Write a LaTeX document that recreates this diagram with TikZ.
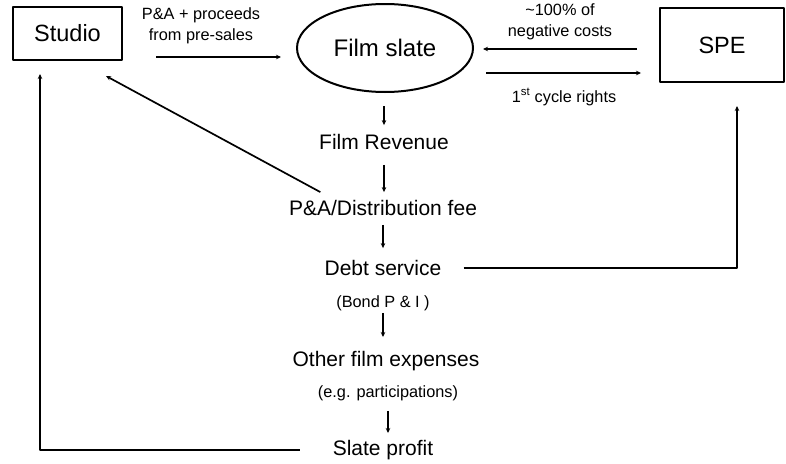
\documentclass[tikz,border=0pt]{standalone}
\usepackage{fontspec}
\setmainfont{Liberation Sans}
\usetikzlibrary{arrows.meta,shapes.geometric}
\begin{document}
\begin{tikzpicture}[x=1pt,y=-1pt,line join=round,>={Stealth[length=5pt,width=4.5pt]},
  box/.style={draw,line width=2pt,inner sep=0pt},
  lbl/.style={inner sep=0pt,font=\fontsize{21}{24}\selectfont},
  note/.style={inner sep=0pt,align=center,font=\fontsize{16.3}{20.5}\selectfont},
  flow/.style={->,line width=1.7pt},
  chain/.style={->,line width=1.2pt}]
\useasboundingbox (0,0) rectangle (786,463);
\node[box,minimum width=109pt,minimum height=53pt,font=\fontsize{23.5}{26}\selectfont] (studio) at (67.5,33.5) {Studio};
\node[box,minimum width=124pt,minimum height=74pt,font=\fontsize{23.5}{26}\selectfont] (spe) at (722,45) {SPE};
\node[box,ellipse,minimum width=176pt,minimum height=88pt,font=\fontsize{24}{28}\selectfont] (slate) at (385,48) {Film slate};
\node[note] (presales) at (201,26) {P\&A + proceeds\\from pre-sales};
\node[note] (negcost) at (560,22) {\textasciitilde100\% of\\negative costs};
\node[note] (rights) at (564,97) {1\textsuperscript{st} cycle rights};
\node[lbl] (rev) at (384,142) {Film Revenue};
\node[lbl] (fee) at (383,208) {P\&A/Distribution fee};
\node[lbl] (debt) at (383,268) {Debt service};
\node[note] (bond) at (383,303) {(Bond P \& I )};
\node[lbl] (other) at (386,361) {Other film expenses};
\node[note] (eg) at (388,393) {(e.g. participations)};
\node[lbl] (profit) at (383,450) {Slate profit};
\draw[flow,shorten <=33pt,shorten >=15pt] ([yshift=-23.5pt]studio.east) -- ([yshift=-23.5pt]studio.east -| slate.west);
\draw[flow,shorten <=22pt,shorten >=9pt] ([yshift=-4pt]spe.west) -- ([yshift=-4pt]spe.west -| slate.east);
\draw[flow,shorten <=12pt,shorten >=18pt] ([yshift=-28pt]spe.west -| slate.east) -- ([yshift=-28pt]spe.west);
\draw[chain,shorten <=13pt,shorten >=9pt] (rev.north |- slate.south) -- (rev.north);
\foreach \a/\b/\s/\e in {rev/fee/15/8,fee/debt/9/12,bond/other/2/14,eg/profit/10/7}
  \draw[chain,shorten <=\s pt,shorten >=\e pt] (\a.south) -- (\a.south |- \b.north);
\draw[flow] ([xshift=31.5pt,yshift=8pt]fee.north west) -- ([xshift=-17pt,yshift=-15pt]studio.south east);
\draw[flow,line width=2pt] ([xshift=22pt]debt.east) -| ([xshift=15pt,yshift=-23pt]spe.south);
\draw[flow,line width=2pt] ([xshift=-33pt]profit.west) -| ([xshift=-27.5pt,yshift=-13pt]studio.south);
\end{tikzpicture}
\end{document}
